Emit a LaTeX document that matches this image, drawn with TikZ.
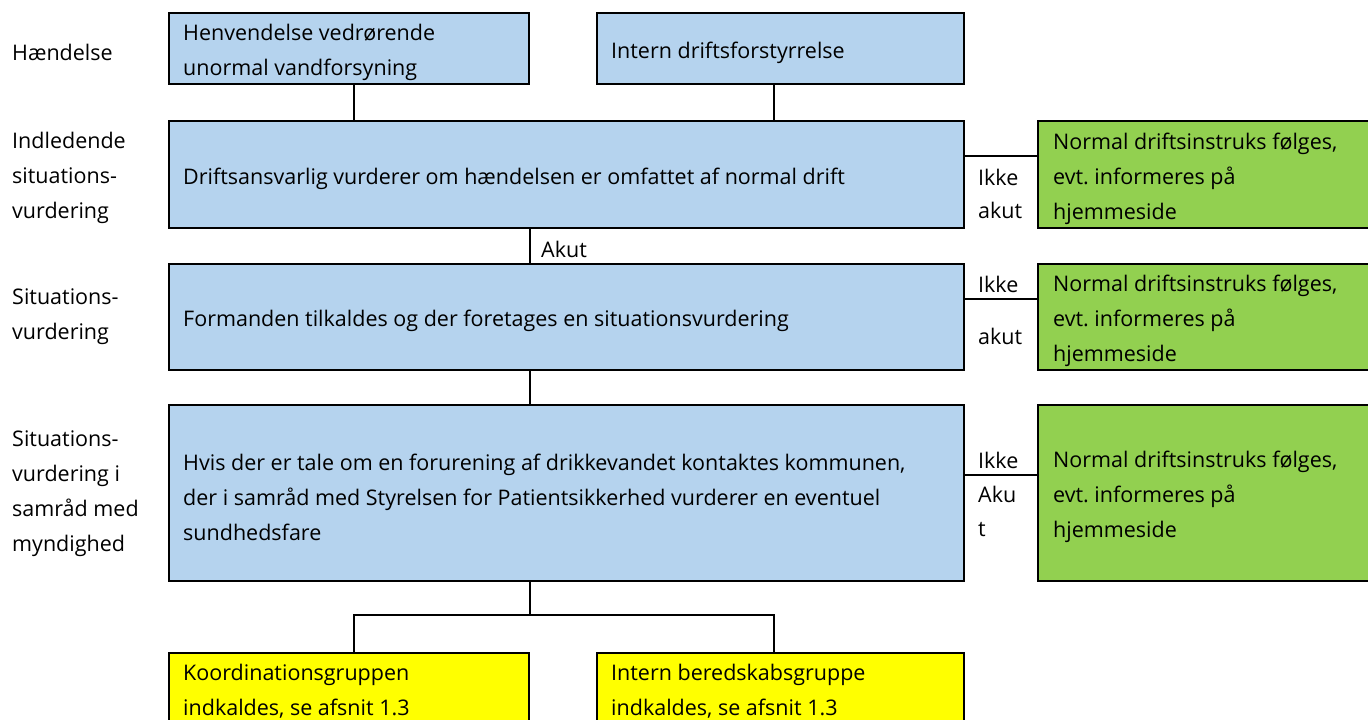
\documentclass[tikz,border=0pt]{standalone}
\usepackage{fontspec}
\setmainfont{Open Sans}
\frenchspacing
\definecolor{boxblue}{HTML}{B5D3EE}
\definecolor{boxgreen}{HTML}{92D050}
\definecolor{boxyellow}{HTML}{FFFF00}
\begin{document}
\begin{tikzpicture}[x=1pt,y=-1pt,
  box/.style={draw=black, line width=2pt, anchor=north west, inner sep=0pt},
  bluebox/.style={box, fill=boxblue},
  greenbox/.style={box, fill=boxgreen},
  yellowbox/.style={box, fill=boxyellow},
  btxt/.style={anchor=west, align=left, inner sep=0pt, font=\fontsize{21.5}{35}\selectfont},
  lbl/.style={anchor=west, align=left, inner sep=0pt, font=\fontsize{21.5}{35}\selectfont},
  conn/.style={line width=2pt}]
\useasboundingbox (0,0) rectangle (1368,720);
\clip (0,0) rectangle (1368,720);

% left labels
\node[lbl] (l1) at (12,52) {Hændelse};
\node[lbl] (l2) at (12,178) {Indledende\\situations-\\vurdering};
\node[lbl] (l3) at (12,317) {Situations-\\vurdering};
\node[lbl] (l4) at (12,494) {Situations-\\vurdering i\\samråd med\\myndighed};

% boxes
\node[bluebox, minimum width=360pt, minimum height=71pt] (t1) at (168,12) {};
\node[bluebox, minimum width=367pt, minimum height=71pt] (t2) at (596,12) {};
\node[bluebox, minimum width=795pt, minimum height=107pt] (b2) at (168,120) {};
\node[bluebox, minimum width=795pt, minimum height=106pt] (b3) at (168,263) {};
\node[bluebox, minimum width=795pt, minimum height=176pt] (b4) at (168,404) {};
\node[greenbox, minimum width=343pt, minimum height=107pt] (g1) at (1037,120) {};
\node[greenbox, minimum width=343pt, minimum height=106pt] (g2) at (1037,263) {};
\node[greenbox, minimum width=343pt, minimum height=176pt] (g3) at (1037,404) {};
\node[yellowbox, minimum width=360pt, minimum height=71pt] (y1) at (168,652) {};
\node[yellowbox, minimum width=367pt, minimum height=71pt] (y2) at (596,652) {};

% box texts
\node[btxt] (t1t) at ([shift={(15,4)}]t1.west) {Henvendelse vedrørende\\unormal vandforsyning};
\node[btxt] (t2t) at ([shift={(15,4)}]t2.west) {Intern driftsforstyrrelse};
\node[btxt] (b2t) at ([shift={(15,4)}]b2.west) {Driftsansvarlig vurderer om hændelsen er omfattet af normal drift};
\node[btxt] (b3t) at ([shift={(15,4)}]b3.west) {Formanden tilkaldes og der foretages en situationsvurdering};
\node[btxt] (b4t) at ([shift={(15,4)}]b4.west) {Hvis der er tale om en forurening af drikkevandet kontaktes kommunen,\\der i samråd med Styrelsen for Patientsikkerhed vurderer en eventuel\\sundhedsfare};
\node[btxt] (g1t) at ([shift={(16,4)}]g1.west) {Normal driftsinstruks følges,\\evt. informeres på\\hjemmeside};
\node[btxt] (g2t) at ([shift={(16,4)}]g2.west) {Normal driftsinstruks følges,\\evt. informeres på\\hjemmeside};
\node[btxt] (g3t) at ([shift={(16,4)}]g3.west) {Normal driftsinstruks følges,\\evt. informeres på\\hjemmeside};
\node[btxt] (y1t) at ([shift={(15,3)}]y1.west) {Koordinationsgruppen\\indkaldes, se afsnit 1.3};
\node[btxt] (y2t) at ([shift={(15,3)}]y2.west) {Intern beredskabsgruppe\\indkaldes, se afsnit 1.3};

% branch coordinates
\coordinate (c1) at (354,0);
\coordinate (c2) at (774,0);
\coordinate (h1) at (0,156);
\coordinate (h2) at (0,299);
\coordinate (h3) at (0,475);
\coordinate (hb) at (0,615);

% connectors
\draw[conn] (t1.south -| c1) -- (b2.north -| c1);
\draw[conn] (t2.south -| c2) -- (b2.north -| c2);
\draw[conn] (t1.south east |- b2.south) -- (t1.south east |- b3.north);
\draw[conn] (t1.south east |- b3.south) -- (t1.south east |- b4.north);
\draw[conn] (t1.south east |- b4.south) -- (t1.south east |- hb);
\draw[conn] (c1 |- y1.north) -- (c1 |- hb) -- (c2 |- hb) -- (c2 |- y2.north);
\draw[conn] (b2.east |- h1) -- (g1.west |- h1);
\draw[conn] (b3.east |- h2) -- (g2.west |- h2);
\draw[conn] (b4.east |- h3) -- (g3.west |- h3);

% branch labels
\node[lbl] (a0) at (541,249) {Akut};
\node[lbl] (i1) at (978,177) {Ikke};
\node[lbl] (k1) at (978,210) {akut};
\node[lbl] (i2) at (978,284) {Ikke};
\node[lbl] (k2) at (978,336) {akut};
\node[lbl] (i3) at (978,460) {Ikke};
\node[lbl] (k3) at (978,494) {Aku};
\node[lbl] (k3b) at (978,530) {t};
\end{tikzpicture}
\end{document}
